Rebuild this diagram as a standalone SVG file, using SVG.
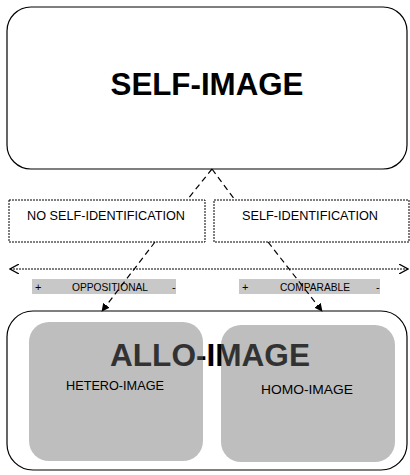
<svg xmlns="http://www.w3.org/2000/svg" width="410" height="475" viewBox="0 0 410 475">
<style>
.box{fill:#fff;stroke:#000;stroke-width:1.2}
.dbox{fill:#fff;stroke:#000;stroke-width:1;stroke-dasharray:2 1}
.gray{fill:#6f6f6f;fill-opacity:0.45}
.bar{fill:#c8c8c8}
.t{font-family:"Liberation Sans",Arial,sans-serif;fill:#000}
.big{font-size:32px;font-weight:bold}
.mid{font-size:13px}
.sm{font-size:11px}
.dash{fill:none;stroke:#000;stroke-width:1.2;stroke-dasharray:6 4}
</style>
<defs>
<marker id="tri" viewBox="0 0 10 10" refX="9" refY="5" markerWidth="8" markerHeight="8" orient="auto" markerUnits="userSpaceOnUse">
<path d="M0,0 L10,5 L0,10 z" fill="#000"/>
</marker>
<marker id="open" viewBox="0 0 10 10" refX="9" refY="5" markerWidth="10" markerHeight="10" orient="auto" markerUnits="userSpaceOnUse">
<path d="M0,0 L9,5 L0,10" fill="none" stroke="#000" stroke-width="1.2"/>
</marker>
<marker id="openS" viewBox="0 0 10 10" refX="1" refY="5" markerWidth="10" markerHeight="10" orient="auto" markerUnits="userSpaceOnUse">
<path d="M10,0 L1,5 L10,10" fill="none" stroke="#000" stroke-width="1.2"/>
</marker>
</defs>
<g id="self-image">
<rect class="box" x="7" y="7" width="400" height="162" rx="24"/>
<text class="t big" x="207" y="95" text-anchor="middle" textLength="193" lengthAdjust="spacingAndGlyphs">SELF-IMAGE</text>
</g>
<g id="no-self-identification">
<rect class="dbox" x="9" y="200" width="196" height="42"/>
<text class="t mid" x="106" y="220" text-anchor="middle" textLength="158" lengthAdjust="spacingAndGlyphs">NO SELF-IDENTIFICATION</text>
</g>
<g id="self-identification">
<rect class="dbox" x="214" y="200" width="195" height="42"/>
<text class="t mid" x="310" y="220" text-anchor="middle" textLength="136" lengthAdjust="spacingAndGlyphs">SELF-IDENTIFICATION</text>
</g>
<g id="oppositional">
<rect class="bar" x="32" y="279" width="144" height="15"/>
<text class="t sm" x="35" y="291">+</text>
<text class="t sm" x="110" y="291" text-anchor="middle" textLength="76" lengthAdjust="spacingAndGlyphs">OPPOSITIONAL</text>
<text class="t sm" x="172" y="291">-</text>
</g>
<g id="comparable">
<rect class="bar" x="239" y="279" width="141" height="15"/>
<text class="t sm" x="242" y="291">+</text>
<text class="t sm" x="315" y="291" text-anchor="middle" textLength="70" lengthAdjust="spacingAndGlyphs">COMPARABLE</text>
<text class="t sm" x="376" y="291">-</text>
</g>
<g id="allo-image">
<rect class="box" x="7" y="311" width="400" height="159" rx="26"/>
<text class="t big" x="210" y="366" text-anchor="middle" textLength="200" lengthAdjust="spacingAndGlyphs">ALLO-IMAGE</text>
</g>
<g id="hetero-image">
<rect class="gray" x="29" y="322" width="174" height="139" rx="20"/>
<text class="t mid" x="115" y="390" text-anchor="middle" textLength="98" lengthAdjust="spacingAndGlyphs" fill="#111">HETERO-IMAGE</text>
</g>
<g id="homo-image">
<rect class="gray" x="221" y="325" width="174" height="137" rx="20"/>
<text class="t mid" x="307" y="394" text-anchor="middle" textLength="92" lengthAdjust="spacingAndGlyphs" fill="#111">HOMO-IMAGE</text>
</g>
<g id="connectors">
<path class="dash" d="M212,169 L187,200"/>
<path class="dash" d="M212,169 L235,200"/>
<path class="dash" d="M155,242 L102,311" marker-end="url(#tri)"/>
<path class="dash" d="M268,242 L322,311" marker-end="url(#tri)"/>
<path d="M10,269 L408,269" fill="none" stroke="#000" stroke-width="1" stroke-dasharray="2 1" marker-start="url(#openS)" marker-end="url(#open)"/>
</g>
</svg>
